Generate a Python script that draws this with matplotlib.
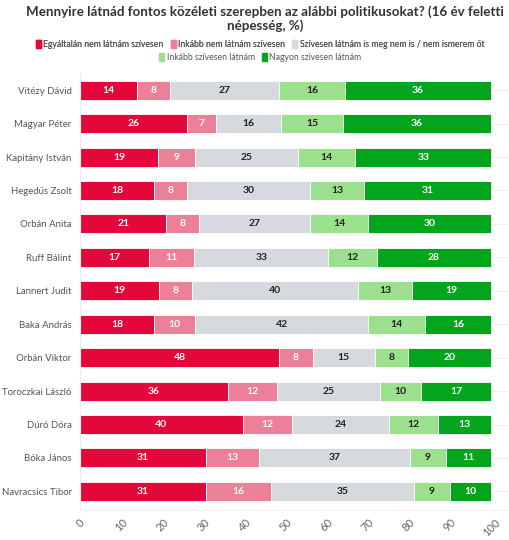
import numpy as np
import matplotlib
matplotlib.use("Agg")
import matplotlib.pyplot as plt
from matplotlib.patches import FancyBboxPatch

plt.rcParams["font.family"] = ["Lato", "DejaVu Sans"]

TITLE = "Mennyire látnád fontos közéleti szerepben az alábbi politikusokat? (16 év feletti\nnépesség, %)"
NAMES = ["Vitézy Dávid", "Magyar Péter", "Kapitány István", "Hegedűs Zsolt",
         "Orbán Anita", "Ruff Bálint", "Lannert Judit", "Baka András",
         "Orbán Viktor", "Toroczkai László", "Dúró Dóra", "Bóka János",
         "Navracsics Tibor"]
CATEGORIES = ["Egyáltalán nem látnám szívesen", "Inkább nem látnám szívesen",
              "Szívesen látnám is meg nem is / nem ismerem őt",
              "Inkább szívesen látnám", "Nagyon szívesen látnám"]
not_at_all = [14, 26, 19, 18, 21, 17, 19, 18, 48, 36, 40, 31, 31]
rather_not = [8, 7, 9, 8, 8, 11, 8, 10, 8, 12, 12, 13, 16]
neutral = [27, 16, 25, 30, 27, 33, 40, 42, 15, 25, 24, 37, 35]
rather_yes = [16, 15, 14, 13, 14, 12, 13, 14, 8, 10, 12, 9, 9]
very_yes = [36, 36, 33, 31, 30, 28, 19, 16, 20, 17, 13, 11, 10]

COLORS = ["#E4073A", "#EC8099", "#D6D9DE", "#9BE08C", "#03A51C"]
TEXT_COLORS = ["white", "white", "#222222", "#222222", "white"]

data = np.array([not_at_all, rather_not, neutral, rather_yes, very_yes], dtype=float)
shares = data / data.sum(axis=0) * 100  # bars fill 0-100

fig = plt.figure(figsize=(5.1, 5.4), dpi=100)
ax = fig.add_axes([0.157, 0.056, 0.843, 0.811])

y = np.arange(len(NAMES))
left = np.zeros(len(NAMES))
for k in range(len(CATEGORIES)):
    ax.barh(y, shares[k], left=left, height=0.57, color=COLORS[k],
            edgecolor="white", linewidth=0.6, label=CATEGORIES[k], zorder=2)
    for i in range(len(NAMES)):
        ax.text(left[i] + shares[k, i] / 2, y[i], f"{int(data[k, i])}",
                ha="center", va="center", fontsize=7.5, fontweight="bold",
                color=TEXT_COLORS[k], zorder=3)
    left += shares[k]

ax.set_xlim(0, 104.6)
ax.set_ylim(len(NAMES) - 0.45, -0.55)
ax.set_xticks(np.arange(0, 101, 10))
ax.set_xticklabels([str(v) for v in range(0, 101, 10)], rotation=45,
                   fontsize=8, color="#666666")
ax.set_yticks(y)
ax.set_yticklabels(NAMES, fontsize=6.9, color="#555555")
ax.tick_params(axis="both", length=0, pad=5)
ax.tick_params(axis="y", pad=6)
ax.grid(axis="y", color="#EEEEEE", linewidth=0.6, zorder=0)
for s in ["top", "right"]:
    ax.spines[s].set_visible(False)
ax.spines["left"].set_color("#EEEEEE")
ax.spines["bottom"].set_color("#F2F2F2")

fig.text(0.52, 0.99, TITLE, ha="center", va="top", fontsize=9.6,
         fontweight="bold", color="#333333", linespacing=1.15)

handles = [FancyBboxPatch((0, 0), 1, 1, boxstyle="round,pad=0.1", color=c) for c in COLORS]
leg1 = fig.legend(handles[:3], CATEGORIES[:3], ncol=3, loc="center",
                  bbox_to_anchor=(0.51, 0.918), frameon=False, fontsize=6.2,
                  handlelength=0.6, handleheight=1.0, handletextpad=0.3,
                  columnspacing=0.8, labelcolor="#555555")
leg2 = fig.legend(handles[3:], CATEGORIES[3:], ncol=2, loc="center",
                  bbox_to_anchor=(0.51, 0.893), frameon=False, fontsize=6.2,
                  handlelength=0.6, handleheight=1.0, handletextpad=0.3,
                  columnspacing=0.8, labelcolor="#555555")
fig.add_artist(leg1)

fig.savefig("out.png", dpi=100, facecolor="white")
